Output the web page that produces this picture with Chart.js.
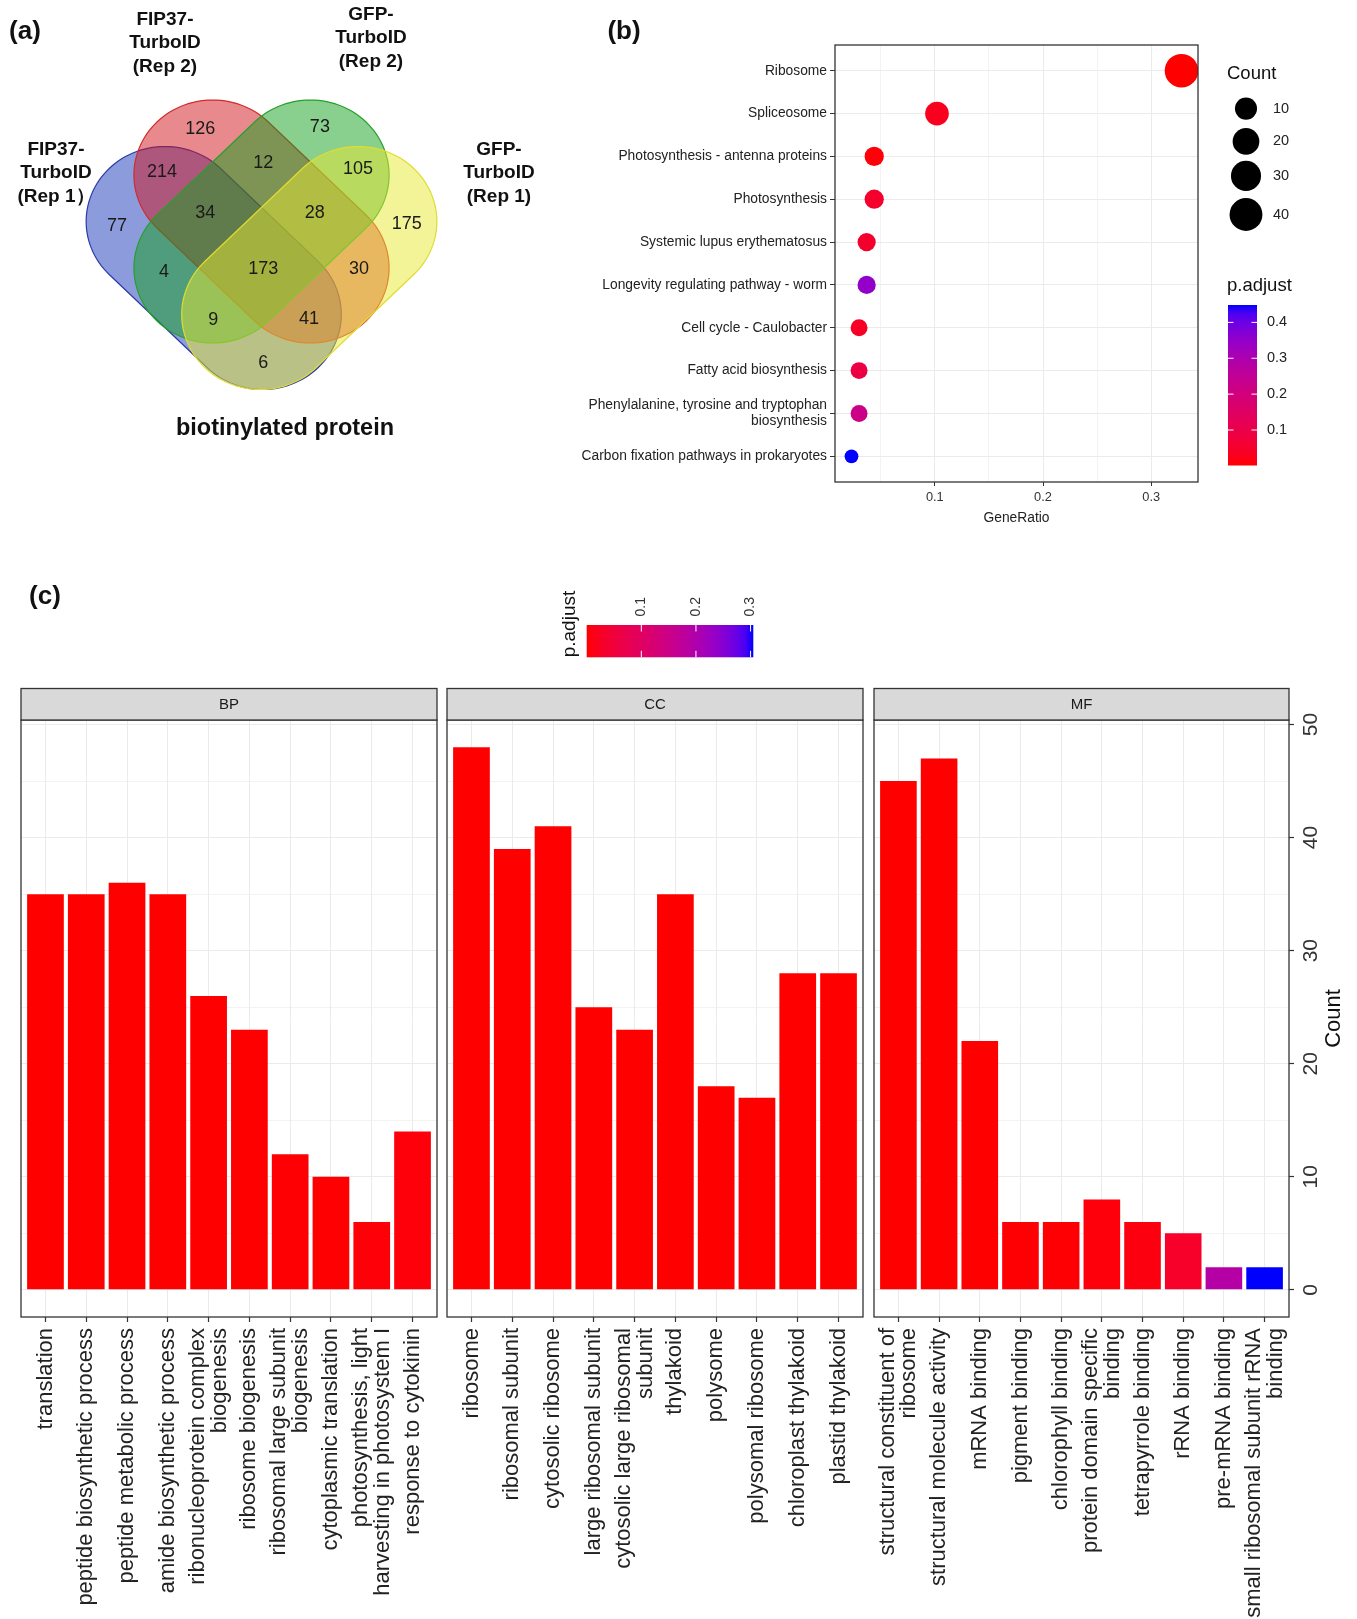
<!DOCTYPE html>
<html>
<head>
<meta charset="utf-8">
<script src="https://cdn.jsdelivr.net/npm/chart.js@4.4.0/dist/chart.umd.min.js"></script>
<style>
body { margin: 0; background: #fff; width: 1357px; height: 1619px; position: relative; overflow: hidden; font-family: "Liberation Sans", Arial, sans-serif; }
canvas { position: absolute; }
.lbl { position: absolute; transform: translate(-50%, -50%); white-space: pre; text-align: center; font-weight: bold; color: #111; }
.set { font-size: 19px; line-height: 23.4px; }
</style>
</head>
<body>
<canvas id="venn" width="560" height="450" style="left:0;top:0"></canvas>
<canvas id="kegg" width="797" height="540" style="left:560px;top:0"></canvas>
<canvas id="goBP" width="445" height="1059" style="left:0;top:560px"></canvas>
<canvas id="goCC" width="430" height="1059" style="left:440px;top:560px"></canvas>
<canvas id="goMF" width="490" height="1059" style="left:867px;top:560px"></canvas>

<div class="lbl" style="left:25px;top:30px;font-size:26px">(a)</div>
<div class="lbl set" style="left:165px;top:42px">FIP37-
TurboID
(Rep 2)</div>
<div class="lbl set" style="left:371px;top:37px">GFP-
TurboID
(Rep 2)</div>
<div class="lbl set" style="left:56px;top:172px">FIP37-
TurboID
(Rep 1）</div>
<div class="lbl set" style="left:499px;top:172px">GFP-
TurboID
(Rep 1)</div>
<div class="lbl" style="left:285px;top:427px;font-size:23.5px">biotinylated protein</div>
<div class="lbl" style="left:624px;top:30px;font-size:26px">(b)</div>
<div class="lbl" style="left:45px;top:595px;font-size:26px">(c)</div>

<script>
// ---- (a) venn counts, one per region ----
const vennCounts = [126, 73, 214, 12, 105, 77, 34, 28, 175, 4, 173, 30, 9, 41, 6];
// where each count is written, in venn units
const vennLabelX = [0.354, 0.639, 0.263, 0.504, 0.730, 0.156, 0.366, 0.627, 0.846, 0.268, 0.504, 0.732, 0.385, 0.613, 0.504];
const vennLabelY = [0.788, 0.793, 0.680, 0.703, 0.688, 0.545, 0.578, 0.578, 0.550, 0.430, 0.438, 0.438, 0.310, 0.313, 0.203];

// ---- (b) KEGG enrichment ----
const keggTerms = [
  'Ribosome', 'Spliceosome', 'Photosynthesis - antenna proteins', 'Photosynthesis',
  'Systemic lupus erythematosus', 'Longevity regulating pathway - worm', 'Cell cycle - Caulobacter',
  'Fatty acid biosynthesis', 'Phenylalanine, tyrosine and tryptophan\nbiosynthesis',
  'Carbon fixation pathways in prokaryotes'
];
const keggGeneRatio = [0.328, 0.102, 0.044, 0.044, 0.037, 0.037, 0.030, 0.030, 0.030, 0.023];
const keggCount = [43, 13, 6, 6, 5, 5, 4, 4, 4, 3];
const keggPadj = [0.001, 0.03, 0.006, 0.05, 0.05, 0.35, 0.04, 0.09, 0.22, 0.4485];
const countBreaks = [10, 20, 30, 40];
const keggPadjTicks = [0.1, 0.2, 0.3, 0.4];

// ---- (c) GO enrichment ----
const bpTerms = ['translation', 'peptide biosynthetic process', 'peptide metabolic process',
  'amide biosynthetic process', 'ribonucleoprotein complex\nbiogenesis', 'ribosome biogenesis',
  'ribosomal large subunit\nbiogenesis', 'cytoplasmic translation',
  'photosynthesis, light\nharvesting in photosystem I', 'response to cytokinin'];
const bpCount = [35, 35, 36, 35, 26, 23, 12, 10, 6, 14];
const bpPadj = [1e-9, 1e-9, 1e-9, 1e-9, 1e-6, 1e-5, 0.002, 0.001, 0.004, 0.005];

const ccTerms = ['ribosome', 'ribosomal subunit', 'cytosolic ribosome', 'large ribosomal subunit',
  'cytosolic large ribosomal\nsubunit', 'thylakoid', 'polysome', 'polysomal ribosome',
  'chloroplast thylakoid', 'plastid thylakoid'];
const ccCount = [48, 39, 41, 25, 23, 35, 18, 17, 28, 28];
const ccPadj = [1e-9, 1e-9, 1e-9, 1e-8, 1e-7, 1e-6, 1e-5, 1e-5, 1e-4, 1e-4];

const mfTerms = ['structural constituent of\nribosome', 'structural molecule activity', 'mRNA binding',
  'pigment binding', 'chlorophyll binding', 'protein domain specific\nbinding', 'tetrapyrrole binding',
  'rRNA binding', 'pre-mRNA binding', 'small ribosomal subunit rRNA\nbinding'];
const mfCount = [45, 47, 22, 6, 6, 8, 6, 5, 2, 2];
const mfPadj = [1e-9, 1e-9, 2e-4, 0.002, 0.002, 0.006, 0.008, 0.03, 0.19, 0.305];
const goPadjTicks = [0.1, 0.2, 0.3];
const countTicks = [0, 10, 20, 30, 40, 50];

Chart.defaults.font.family = '"Liberation Sans", Arial, sans-serif';
const FONT = '"Liberation Sans", Arial, sans-serif';

// red -> blue through CIELAB, like ggplot's gradient
const lin = c => { c /= 255; return c <= 0.04045 ? c / 12.92 : Math.pow((c + 0.055) / 1.055, 2.4); };
const gam = c => { c = c <= 0.0031308 ? 12.92 * c : 1.055 * Math.pow(c, 1 / 2.4) - 0.055; return Math.round(Math.max(0, Math.min(1, c)) * 255); };
function toLab([r, g, b]) {
  const R = lin(r), G = lin(g), B = lin(b);
  const X = (0.4124 * R + 0.3576 * G + 0.1805 * B) / 0.95047;
  const Y = 0.2126 * R + 0.7152 * G + 0.0722 * B;
  const Z = (0.0193 * R + 0.1192 * G + 0.9505 * B) / 1.08883;
  const f = t => t > 0.008856 ? Math.cbrt(t) : 7.787 * t + 16 / 116;
  return [116 * f(Y) - 16, 500 * (f(X) - f(Y)), 200 * (f(Y) - f(Z))];
}
function fromLab([L, a, b]) {
  const fy = (L + 16) / 116, fx = fy + a / 500, fz = fy - b / 200;
  const inv = t => t * t * t > 0.008856 ? t * t * t : (t - 16 / 116) / 7.787;
  const X = 0.95047 * inv(fx), Y = inv(fy), Z = 1.08883 * inv(fz);
  return [gam(3.2406 * X - 1.5372 * Y - 0.4986 * Z), gam(-0.9689 * X + 1.8758 * Y + 0.0415 * Z), gam(0.0557 * X - 0.2040 * Y + 1.0570 * Z)];
}
const labLo = toLab([255, 0, 0]), labHi = toLab([0, 0, 255]);
function gradColor(t) {
  t = Math.max(0, Math.min(1, t));
  const [r, g, b] = fromLab(labLo.map((v, i) => v + (labHi[i] - v) * t));
  return `rgb(${r},${g},${b})`;
}
function fillGradient(ctx, x0, y0, x1, y1) {
  const g = ctx.createLinearGradient(x0, y0, x1, y1);
  for (let i = 0; i <= 20; i++) g.addColorStop(i / 20, gradColor(i / 20));
  return g;
}

const frame = {
  id: 'frame',
  afterDraw(chart) {
    const { ctx, chartArea: a } = chart;
    ctx.save();
    ctx.strokeStyle = '#333';
    ctx.lineWidth = 1.3;
    ctx.strokeRect(a.left, a.top, a.right - a.left, a.bottom - a.top);
    ctx.restore();
  }
};

// ---------------- (a) venn ----------------
// each set is a capsule tilted 45 degrees: centre, direction, half length, radius (venn units)
const capHalf = 0.11625, capR = 0.1875;
const vennShapes = [
  { cx: 0.38625, cy: 0.44, dir: -1, fill: 'rgba(25,55,185,0.5)', line: '#2a3aa8' },
  { cx: 0.5, cy: 0.55625, dir: -1, fill: 'rgba(210,20,30,0.5)', line: '#d42a2a' },
  { cx: 0.5, cy: 0.55625, dir: 1, fill: 'rgba(20,160,30,0.5)', line: '#27a02a' },
  { cx: 0.61375, cy: 0.44, dir: 1, fill: 'rgba(232,232,50,0.5)', line: '#e0dc30' }
];
function capsuleOutline(e) {
  // end points along the tilted axis (dir 1 = up-right, -1 = down-right)
  const x1 = e.cx - capHalf, y1 = e.cy - e.dir * capHalf;
  const x2 = e.cx + capHalf, y2 = e.cy + e.dir * capHalf;
  const ang = Math.atan2(y2 - y1, x2 - x1);
  const pts = [];
  for (let i = 0; i <= 60; i++) {
    const t = ang - Math.PI / 2 + Math.PI * i / 60;
    pts.push([x2 + capR * Math.cos(t), y2 + capR * Math.sin(t)]);
  }
  for (let i = 0; i <= 60; i++) {
    const t = ang + Math.PI / 2 + Math.PI * i / 60;
    pts.push([x1 + capR * Math.cos(t), y1 + capR * Math.sin(t)]);
  }
  return pts;
}
const vennPlugin = {
  id: 'vennShapes',
  beforeDatasetsDraw(chart) {
    const { ctx, scales: { x, y } } = chart;
    vennShapes.forEach(e => {
      ctx.save();
      ctx.beginPath();
      capsuleOutline(e).forEach(([u, v], i) => {
        const px = x.getPixelForValue(u), py = y.getPixelForValue(v);
        if (i === 0) ctx.moveTo(px, py); else ctx.lineTo(px, py);
      });
      ctx.closePath();
      ctx.fillStyle = e.fill;
      ctx.fill();
      ctx.lineWidth = 1.2;
      ctx.strokeStyle = e.line;
      ctx.stroke();
      ctx.restore();
    });
  },
  afterDatasetsDraw(chart) {
    const { ctx } = chart;
    const meta = chart.getDatasetMeta(0);
    ctx.save();
    ctx.font = '18px ' + FONT;
    ctx.fillStyle = '#1a1a1a';
    ctx.textAlign = 'center';
    ctx.textBaseline = 'middle';
    meta.data.forEach((pt, i) => ctx.fillText(String(vennCounts[i]), pt.x, pt.y));
    ctx.restore();
  }
};
new Chart(document.getElementById('venn'), {
  type: 'scatter',
  data: { datasets: [{ data: vennCounts.map((c, i) => ({ x: vennLabelX[i], y: vennLabelY[i] })), pointRadius: 0 }] },
  options: {
    responsive: false, animation: false, devicePixelRatio: 1,
    layout: { padding: 0 },
    plugins: { legend: { display: false }, tooltip: { enabled: false } },
    scales: {
      x: { type: 'linear', min: -0.12262, max: 1.21071, display: false },
      y: { type: 'linear', min: -0.015, max: 1.11, display: false }
    }
  },
  plugins: [vennPlugin]
});

// ---------------- (b) KEGG dot plot ----------------
const pMinK = Math.min(...keggPadj), pMaxK = Math.max(...keggPadj);
const cMin = Math.min(...keggCount), cMax = Math.max(...keggCount);
const dotRadius = c => 6.9 + 9.9 * Math.sqrt((c - cMin) / (cMax - cMin));
const grMin = Math.min(...keggGeneRatio), grMax = Math.max(...keggGeneRatio);
const grPad = (grMax - grMin) * 0.05;
const isMajor = v => Math.abs(v * 10 - Math.round(v * 10)) < 1e-6;

const keggLegend = {
  id: 'keggLegend',
  afterDraw(chart) {
    const { ctx } = chart;
    ctx.save();
    ctx.fillStyle = '#111';
    ctx.textBaseline = 'middle';
    ctx.textAlign = 'left';
    ctx.font = '18.5px ' + FONT;
    ctx.fillText('Count', 667, 74);
    const keyY = [108.6, 141.4, 175.9, 214.5];
    countBreaks.forEach((c, i) => {
      ctx.beginPath();
      ctx.arc(686, keyY[i], dotRadius(c), 0, Math.PI * 2);
      ctx.fillStyle = '#000';
      ctx.fill();
      ctx.font = '14.5px ' + FONT;
      ctx.fillStyle = '#222';
      ctx.fillText(String(c), 713, keyY[i]);
    });
    ctx.font = '18.5px ' + FONT;
    ctx.fillStyle = '#111';
    ctx.fillText('p.adjust', 667, 286);
    const x0 = 668, x1 = 697, y0 = 305, y1 = 465.5;
    ctx.fillStyle = fillGradient(ctx, 0, y1, 0, y0);
    ctx.fillRect(x0, y0, x1 - x0, y1 - y0);
    ctx.strokeStyle = '#fff';
    ctx.lineWidth = 1;
    ctx.font = '14.5px ' + FONT;
    keggPadjTicks.forEach(v => {
      const py = y1 - (v - pMinK) / (pMaxK - pMinK) * (y1 - y0);
      ctx.beginPath();
      ctx.moveTo(x0, py); ctx.lineTo(x0 + 5.5, py);
      ctx.moveTo(x1 - 5.5, py); ctx.lineTo(x1, py);
      ctx.stroke();
      ctx.fillStyle = '#222';
      ctx.fillText(v.toFixed(1), 707, py);
    });
    ctx.restore();
  }
};

new Chart(document.getElementById('kegg'), {
  type: 'bubble',
  data: {
    datasets: [{
      data: keggTerms.map((t, i) => ({ x: keggGeneRatio[i], y: i, r: dotRadius(keggCount[i]) })),
      backgroundColor: keggPadj.map(p => gradColor((p - pMinK) / (pMaxK - pMinK))),
      borderWidth: 0,
      clip: 0
    }]
  },
  options: {
    responsive: false, animation: false, devicePixelRatio: 1,
    layout: { padding: { left: 0, top: 45, right: 159, bottom: 0 } },
    plugins: { legend: { display: false }, tooltip: { enabled: false } },
    scales: {
      x: {
        type: 'linear', min: grMin - grPad, max: grMax + grPad,
        afterFit(s) { s.height = 58; },
        border: { display: false },
        ticks: { stepSize: 0.05, includeBounds: false, maxRotation: 0, autoSkip: false, color: '#333', font: { size: 12.8 }, padding: 4,
          callback: v => isMajor(v) ? v.toFixed(1) : '' },
        grid: {
          color: '#EBEBEB',
          lineWidth: c => isMajor(c.tick.value) ? 1 : 0.6,
          tickColor: c => isMajor(c.tick.value) ? '#333' : 'rgba(0,0,0,0)',
          tickLength: 4
        },
        title: { display: true, text: 'GeneRatio', color: '#222', font: { size: 13.8 }, padding: { top: 0, bottom: 14 } }
      },
      y: {
        type: 'linear', reverse: true, min: -0.6, max: keggTerms.length - 0.4,
        afterFit(s) { s.width = 275; },
        border: { display: false },
        ticks: { stepSize: 1, includeBounds: false, autoSkip: false, color: '#222', font: { size: 13.8, lineHeight: 1.15 }, padding: 3,
          callback: v => keggTerms[v].split('\n') },
        grid: { color: '#EBEBEB', tickColor: '#333', tickLength: 5 }
      }
    }
  },
  plugins: [frame, keggLegend]
});

// ---------------- (c) GO bar charts ----------------
const allPadj = bpPadj.concat(ccPadj, mfPadj);
const pMinG = Math.min(...allPadj), pMaxG = Math.max(...allPadj);
const maxCount = Math.max(...bpCount, ...ccCount, ...mfCount);

function stripPlugin(text) {
  return {
    id: 'strip',
    afterDraw(chart) {
      const { ctx, chartArea: a } = chart;
      const h = 31.5;
      ctx.save();
      ctx.fillStyle = '#D9D9D9';
      ctx.fillRect(a.left, a.top - h, a.right - a.left, h);
      ctx.strokeStyle = '#333';
      ctx.lineWidth = 1.3;
      ctx.strokeRect(a.left, a.top - h, a.right - a.left, h);
      ctx.fillStyle = '#1a1a1a';
      ctx.font = '15px ' + FONT;
      ctx.textAlign = 'center';
      ctx.textBaseline = 'middle';
      ctx.fillText(text, (a.left + a.right) / 2, a.top - h / 2 + 1);
      ctx.restore();
    }
  };
}

function termLabels(terms) {
  return {
    id: 'termLabels',
    afterDraw(chart) {
      const { ctx, chartArea: a, scales: { x } } = chart;
      ctx.save();
      ctx.font = '22px ' + FONT;
      ctx.fillStyle = '#222';
      ctx.textAlign = 'right';
      ctx.textBaseline = 'middle';
      terms.forEach((t, i) => {
        const lines = t.split('\n');
        ctx.save();
        ctx.translate(x.getPixelForValue(i + 1), a.bottom + 11);
        ctx.rotate(-Math.PI / 2);
        lines.forEach((ln, j) => ctx.fillText(ln, 0, (j - (lines.length - 1) / 2) * 21.7));
        ctx.restore();
      });
      ctx.restore();
    }
  };
}

const countAxis = {
  id: 'countAxis',
  afterDraw(chart) {
    const { ctx, chartArea: a, scales: { y } } = chart;
    ctx.save();
    ctx.textAlign = 'center';
    ctx.textBaseline = 'middle';
    ctx.font = '21px ' + FONT;
    ctx.fillStyle = '#333';
    countTicks.forEach(v => {
      ctx.save();
      ctx.translate(a.right + 22.7, y.getPixelForValue(v));
      ctx.rotate(-Math.PI / 2);
      ctx.fillText(String(v), 0, 0);
      ctx.restore();
    });
    ctx.font = '22px ' + FONT;
    ctx.fillStyle = '#111';
    ctx.translate(a.right + 45, (a.top + a.bottom) / 2);
    ctx.rotate(-Math.PI / 2);
    ctx.fillText('Count', 0, 0);
    ctx.restore();
  }
};

const goColorbar = {
  id: 'goColorbar',
  afterDraw(chart) {
    const { ctx } = chart;
    const x0 = 146.7, x1 = 313.3, y0 = 65, y1 = 97.3;
    ctx.save();
    ctx.fillStyle = fillGradient(ctx, x0, 0, x1, 0);
    ctx.fillRect(x0, y0, x1 - x0, y1 - y0);
    ctx.strokeStyle = '#fff';
    ctx.lineWidth = 1;
    ctx.font = '14px ' + FONT;
    ctx.textAlign = 'left';
    ctx.textBaseline = 'middle';
    goPadjTicks.forEach(v => {
      const px = x0 + (v - pMinG) / (pMaxG - pMinG) * (x1 - x0);
      ctx.beginPath();
      ctx.moveTo(px, y0); ctx.lineTo(px, y0 + 6.5);
      ctx.moveTo(px, y1 - 6.5); ctx.lineTo(px, y1);
      ctx.stroke();
      ctx.save();
      ctx.translate(px, 56.5);
      ctx.rotate(-Math.PI / 2);
      ctx.fillStyle = '#333';
      ctx.fillText(v.toFixed(1), 0, 0);
      ctx.restore();
    });
    ctx.translate(129.5, 97.3);
    ctx.rotate(-Math.PI / 2);
    ctx.font = '19px ' + FONT;
    ctx.fillStyle = '#111';
    ctx.fillText('p.adjust', 0, 0);
    ctx.restore();
  }
};

function goChart(id, strip, terms, counts, padj, padding, rightAxis, extra) {
  return new Chart(document.getElementById(id), {
    type: 'bar',
    data: {
      datasets: [{
        data: counts.map((c, i) => ({ x: i + 1, y: c })),
        backgroundColor: padj.map(p => gradColor((p - pMinG) / (pMaxG - pMinG))),
        barPercentage: 0.9,
        categoryPercentage: 1,
        borderWidth: 0
      }]
    },
    options: {
      responsive: false, animation: false, devicePixelRatio: 1,
      layout: { padding: padding },
      plugins: { legend: { display: false }, tooltip: { enabled: false } },
      scales: {
        x: {
          type: 'linear', min: 0.4, max: terms.length + 0.6, offset: false,
          afterFit(s) { s.height = 302; },
          border: { display: false },
          ticks: { stepSize: 1, includeBounds: false, autoSkip: false, maxRotation: 0, callback: () => '' },
          grid: { offset: false, color: '#EBEBEB', tickColor: '#333', tickLength: 5, tickWidth: 1.2 }
        },
        y: {
          type: 'linear', position: rightAxis ? 'right' : 'left',
          min: -0.05 * maxCount, max: 1.05 * maxCount,
          afterFit(s) { s.width = rightAxis ? 68 : 0; },
          border: { display: false },
          ticks: { stepSize: 5, includeBounds: false, callback: () => '' },
          grid: {
            color: '#EBEBEB',
            lineWidth: c => c.tick.value % 10 === 0 ? 1 : 0.6,
            tickColor: c => (rightAxis && c.tick.value % 10 === 0) ? '#333' : 'rgba(0,0,0,0)',
            tickLength: 5, tickWidth: 1.2,
            drawTicks: rightAxis
          }
        }
      }
    },
    plugins: [frame, stripPlugin(strip), termLabels(terms)].concat(extra)
  });
}

goChart('goBP', 'BP', bpTerms, bpCount, bpPadj, { left: 21, top: 160, right: 8, bottom: 0 }, false, []);
goChart('goCC', 'CC', ccTerms, ccCount, ccPadj, { left: 7, top: 160, right: 7, bottom: 0 }, false, [goColorbar]);
goChart('goMF', 'MF', mfTerms, mfCount, mfPadj, { left: 7, top: 160, right: 0, bottom: 0 }, true, [countAxis]);
</script>
</body>
</html>
